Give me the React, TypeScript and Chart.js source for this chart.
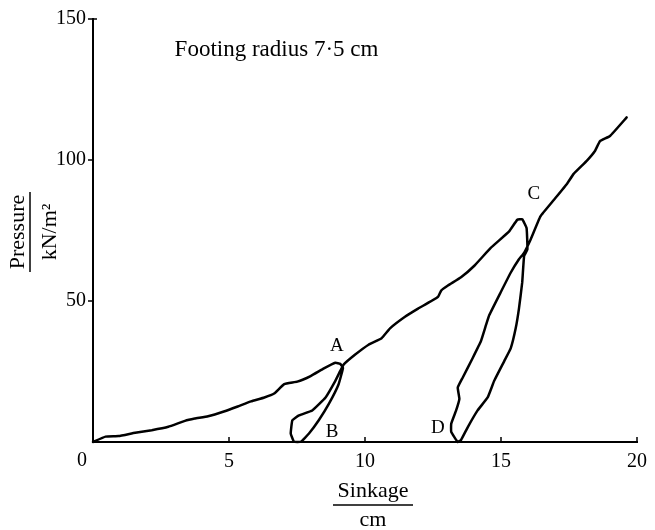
import React, { useEffect, useRef } from "react";
import { Chart, registerables } from "chart.js";

Chart.register(...registerables);

// Sinkage (cm) and pressure (kN/m²), in drawing order
const sinkage = [
  0, 0.46, 0.94, 1.55, 2.16, 2.77, 3.38, 3.74, 4.23, 4.84, 5.32, 5.81, 6.3, 6.66, 7.03, 7.51, 8.0, 8.49, 8.91, 9.09, 9.19,
  9.03, 8.67, 8.3, 7.94, 7.64, 7.39,
  7.27, 7.33, 7.57, 8.06, 8.55, 8.91, 9.09, 9.22,
  9.64, 10.13, 10.61, 10.92, 11.47, 11.95, 12.68, 12.8, 13.05, 13.53, 14.02, 14.63, 15.3, 15.6, 15.78, 15.94, 15.97,
  15.85, 15.78, 15.66, 15.54, 15.36, 15.12, 14.75, 14.51, 14.14, 13.78, 13.53, 13.41,
  13.17, 13.17, 13.35, 13.47, 13.41, 13.59, 13.96, 14.26, 14.45, 14.57, 14.99, 15.36, 15.66, 15.85,
  16.09, 16.45, 16.94, 17.43, 17.67, 18.16, 18.46, 18.64, 19.01, 19.62,
];
const pressure = [
  0, 1.9, 2.1, 3.3, 4.2, 5.4, 7.5, 8.3, 9.1, 10.9, 12.6, 14.4, 15.8, 17.2, 20.5, 21.4, 23.4, 26.1, 28.1, 27.7, 26.3,
  20.5, 13.5, 7.7, 3.0, 0.1, 0.1,
  3.0, 7.7, 9.4, 11.2, 15.8, 21.7, 25.2, 27.5,
  31.0, 34.5, 36.8, 40.3, 44.4, 47.3, 51.4, 53.7, 55.5, 58.4, 62.5, 68.9, 74.7, 78.8, 79.0, 75.9, 68.3,
  66.0, 56.6, 47.3, 40.3, 33.3, 28.7, 21.7, 15.8, 11.2, 5.3, 0.7, 0,
  3.6, 6.5, 11.2, 15.3, 19.3, 22.8, 29.8, 35.7, 41.5, 45.0, 53.1, 60.1, 64.8, 67.1,
  71.8, 80.0, 85.8, 91.6, 95.1, 99.8, 103.3, 106.7, 108.5, 115.1,
];

const xTicks = [5, 10, 15, 20];
const yTicks = [50, 100, 150];

const pointLabels = ["A", "B", "C", "D"];
const pointLabelX = [8.97, 8.79, 16.21, 12.68];
const pointLabelY = [33.9, 3.6, 88.1, 4.8];

const noteText = "Footing radius 7·5 cm";
const noteX = 3.0;
const noteY = 137;

const xTitle = ["Sinkage", "cm"];
const yTitle = ["Pressure", "kN/m²"];

const FONT = "'Liberation Serif', 'Times New Roman', serif";

const decorPlugin = {
  id: "decor",
  afterDraw(chart: any) {
    const ctx = chart.ctx as CanvasRenderingContext2D;
    const xs = chart.scales.x;
    const ys = chart.scales.y;
    const area = chart.chartArea;
    ctx.save();
    ctx.fillStyle = "#000";
    ctx.strokeStyle = "#000";

    // tick marks
    ctx.lineWidth = 1.5;
    ctx.beginPath();
    xTicks.forEach((v) => {
      const px = xs.getPixelForValue(v);
      ctx.moveTo(px, area.bottom);
      ctx.lineTo(px, area.bottom - 5);
    });
    yTicks.forEach((v) => {
      const py = ys.getPixelForValue(v);
      ctx.moveTo(area.left, py);
      ctx.lineTo(area.left - 5, py);
    });
    const topY = ys.getPixelForValue(150);
    ctx.moveTo(area.left, topY);
    ctx.lineTo(area.left + 4, topY);
    ctx.stroke();

    // origin label
    ctx.font = `20px ${FONT}`;
    ctx.textAlign = "center";
    ctx.textBaseline = "middle";
    ctx.fillText("0", area.left - 11, area.bottom + 19);

    // point labels
    ctx.font = `19px ${FONT}`;
    pointLabels.forEach((t, i) => {
      ctx.fillText(t, xs.getPixelForValue(pointLabelX[i]), ys.getPixelForValue(pointLabelY[i]));
    });

    // note
    ctx.font = `23px ${FONT}`;
    ctx.textAlign = "left";
    ctx.textBaseline = "alphabetic";
    ctx.fillText(noteText, xs.getPixelForValue(noteX), ys.getPixelForValue(noteY));

    // x title (fraction)
    ctx.font = `22px ${FONT}`;
    ctx.textAlign = "center";
    const cx = 373;
    ctx.fillText(xTitle[0], cx, 497);
    ctx.fillText(xTitle[1], cx, 526);
    ctx.lineWidth = 1.5;
    ctx.beginPath();
    ctx.moveTo(cx - 40, 505);
    ctx.lineTo(cx + 40, 505);
    ctx.stroke();

    // y title (fraction, rotated)
    const cy = 232;
    ctx.save();
    ctx.translate(0, cy);
    ctx.rotate(-Math.PI / 2);
    ctx.fillText(yTitle[0], 0, 24);
    ctx.fillText(yTitle[1], 0, 56);
    ctx.restore();
    ctx.beginPath();
    ctx.moveTo(30, cy - 40);
    ctx.lineTo(30, cy + 40);
    ctx.stroke();

    ctx.restore();
  },
};

export default function App() {
  const ref = useRef<HTMLCanvasElement | null>(null);
  useEffect(() => {
    if (!ref.current) return;
    const data = sinkage.map((x, i) => ({ x, y: pressure[i] }));
    const chart = new Chart(ref.current, {
      type: "scatter",
      data: {
        datasets: [
          {
            data,
            showLine: true,
            borderColor: "#000",
            backgroundColor: "#000",
            borderWidth: 2.5,
            pointRadius: 0,
            tension: 0.1,
            borderJoinStyle: "round",
            borderCapStyle: "round",
            clip: 6,
          } as any,
        ],
      },
      options: {
        responsive: false,
        animation: false,
        devicePixelRatio: 1,
        layout: { padding: { top: 14, right: 14, left: 0, bottom: 0 } },
        plugins: { legend: { display: false }, tooltip: { enabled: false } },
        scales: {
          x: {
            type: "linear",
            min: 0,
            max: 20,
            afterFit: (s: any) => {
              s.height = 88;
            },
            grid: { display: false, drawTicks: false },
            border: { display: true, color: "#000", width: 2 },
            ticks: {
              stepSize: 5,
              padding: 8,
              color: "#000",
              font: { family: FONT, size: 20 },
              callback: (v: any) => (v === 0 ? "" : String(v)),
            },
          },
          y: {
            type: "linear",
            min: 0,
            max: 150,
            afterFit: (s: any) => {
              s.width = 93;
            },
            grid: { display: false, drawTicks: false },
            border: { display: true, color: "#000", width: 2 },
            ticks: {
              stepSize: 50,
              padding: 7,
              color: "#000",
              font: { family: FONT, size: 20 },
              callback: (v: any) => (v === 0 ? "" : String(v)),
            },
          },
        },
      },
      plugins: [decorPlugin],
    });
    return () => chart.destroy();
  }, []);
  return (
    <div style={{ position: "absolute", left: 0, top: 0, width: 655, height: 530, background: "#fff" }}>
      <canvas ref={ref} width={655} height={530} style={{ display: "block" }} />
    </div>
  );
}
